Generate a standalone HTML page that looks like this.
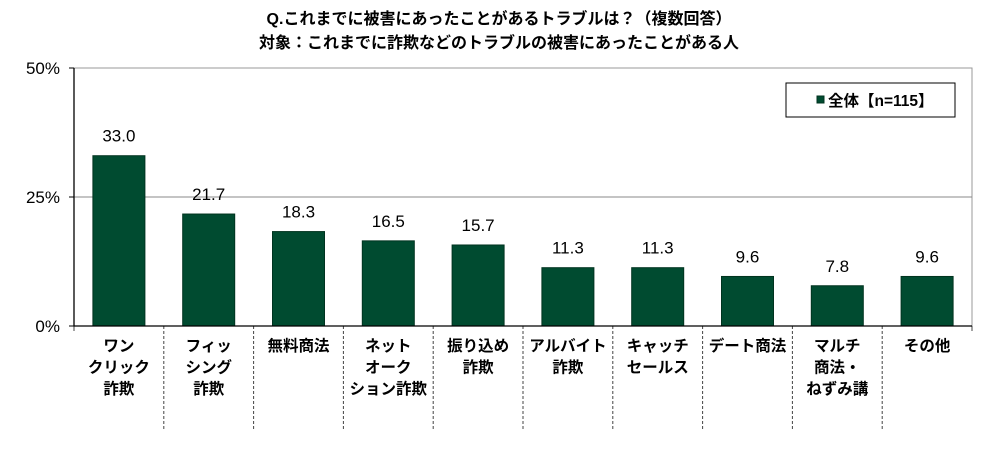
<!DOCTYPE html>
<html><head><meta charset="utf-8"><style>
body{margin:0;background:#fff;width:1000px;height:447px;overflow:hidden;font-family:"Liberation Sans","Noto Sans CJK JP",sans-serif}
svg text{font-family:"Liberation Sans","Noto Sans CJK JP",sans-serif}
</style></head><body>
<svg id="c" width="1000" height="447" xmlns="http://www.w3.org/2000/svg">
<text x="499" y="24" text-anchor="middle" font-size="16" font-weight="bold">Q.これまでに被害にあったことがあるトラブルは？（複数回答）</text>
<text x="499" y="48" text-anchor="middle" font-size="16" font-weight="bold">対象：これまでに詐欺などのトラブルの被害にあったことがある人</text>
<g id="plot"></g>
</svg>
<script>
const categories=[["ワン","クリック","詐欺"],["フィッ","シング","詐欺"],["無料商法"],["ネット","オーク","ション詐欺"],["振り込め","詐欺"],["アルバイト","詐欺"],["キャッチ","セールス"],["デート商法"],["マルチ","商法・","ねずみ講"],["その他"]];
const values=[33.0,21.7,18.3,16.5,15.7,11.3,11.3,9.6,7.8,9.6];
const yTicks=[0,25,50];
const yTickLabels=["0%","25%","50%"];

const NS="http://www.w3.org/2000/svg";
const g=document.getElementById('plot');
const L=74,R=972,T=68,B=326,yMax=50;
const y=v=>B-(v/yMax)*(B-T);
const band=(R-L)/values.length;
const x=i=>L+band*i;
function mk(t,a){const e=document.createElementNS(NS,t);for(const k in a)e.setAttribute(k,a[k]);g.appendChild(e);return e;}

let e=mk('path',{d:`M${L} ${T}H${R}V${B}`,fill:'none',stroke:'#999','stroke-width':1});


yTicks.forEach((t,i)=>{
  if(t>0&&t<yMax){const l=mk('line',{x1:L,x2:R,y1:y(t),y2:y(t),stroke:'#888','stroke-width':1});
  
  }
  const tk=mk('line',{x1:L-5,x2:L,y1:y(t),y2:y(t),stroke:'#000'});
  
  
  const tx=mk('text',{x:L-14,y:y(t)+6,'text-anchor':'end','font-size':17});
  tx.textContent=yTickLabels[i];
  
  
});
values.forEach((v,i)=>{
  const cx=x(i)+band/2,w=52;
  const r=mk('rect',{x:cx-w/2,y:y(v),width:w,height:B-y(v),fill:'#004b30',stroke:'#00331f','stroke-width':1});
  
  
  const t=mk('text',{x:cx,y:y(v)-14,'text-anchor':'middle','font-size':17});
  t.textContent=v.toFixed(1);
  
  
  categories[i].forEach((s,j)=>{
    const c=mk('text',{x:cx,y:351+j*21.5,'text-anchor':'middle','font-size':15.5,'font-weight':'bold'});
    c.textContent=s;
    
    
  });
});
for(let i=0;i<=values.length;i++){
  const edge=(i==0||i==values.length);
  const d=mk('line',{x1:x(i),x2:x(i),y1:B,y2:edge?B+5:429,stroke:'#444','stroke-width':1,'stroke-dasharray':edge?'':'3,2'});
  
  
}
e=mk('path',{d:`M${L} ${T}V${B}H${R}`,fill:'none',stroke:'#000','stroke-width':1.3});


e=mk('rect',{x:786,y:83,width:169,height:34,fill:'#fff',stroke:'#000'});


e=mk('rect',{x:817,y:96,width:7,height:7,fill:'#004b30',stroke:'#00331f'});


e=mk('text',{x:828,y:106,'font-size':15.5,'font-weight':'bold'});
e.textContent='全体【n=115】';


</script>
</body></html>
